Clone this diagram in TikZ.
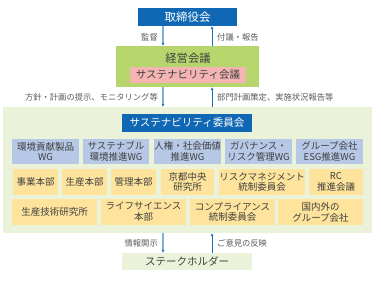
\documentclass[tikz,border=0pt]{standalone}
\usepackage{fontspec}
\setmainfont{Noto Sans CJK JP}
\usepackage{tikz}
\usetikzlibrary{arrows.meta}

\definecolor{boardblue}{HTML}{1068B4}
\definecolor{arrowblue}{HTML}{1A6FB8}
\definecolor{arrowlight}{HTML}{7FB0DD}
\definecolor{mgmtgreen}{HTML}{B6D56C}
\definecolor{confpink}{HTML}{F3B4B2}
\definecolor{panelgreen}{HTML}{EBF2DA}
\definecolor{wgblue}{HTML}{B6C8E6}
\definecolor{orgyellow}{HTML}{FDE39B}
\definecolor{textgray}{HTML}{404040}
\definecolor{labelgray}{HTML}{595959}

\begin{document}
\begin{tikzpicture}[x=1pt,y=-1pt,
    box/.style={inner sep=0pt, align=center, text=textgray,
      font=\fontsize{9.5}{10.8}\selectfont},
    wg/.style={box, fill=wgblue, minimum height=25pt},
    org/.style={box, fill=orgyellow, minimum height=26pt},
    head/.style={inner sep=0pt, fill=boardblue, text=white,
      font=\fontsize{10.5}{12}\selectfont},
    lbl/.style={inner sep=0pt, text=labelgray, font=\fontsize{8.3}{10}\selectfont},
    dnarrow/.style={draw=arrowlight, line width=1.4pt,
      -{Latex[length=3pt,width=3.2pt,color=arrowblue]}},
    uparrow/.style={draw=arrowblue, line width=0.8pt,
      -{Latex[length=3pt,width=3.2pt]}}]
  \useasboundingbox (0,0) rectangle (390,283);

  \coordinate (dn) at (163,0);
  \coordinate (up) at (212,0);

  % top
  \node[head, minimum width=99pt, minimum height=18pt,
    font=\fontsize{11.5}{13}\selectfont] (board) at (187.5,17) {取締役会};
  \node[fill=mgmtgreen, minimum width=143pt, minimum height=41pt] (mgmt) at (187.5,66.5) {};
  \node[box, font=\fontsize{11.3}{13}\selectfont] (mgmtlbl) at (188,58) {経営会議};
  \node[box, fill=confpink, minimum width=116pt, minimum height=16pt,
    font=\fontsize{10.5}{12}\selectfont] (conf) at (188,75) {サステナビリティ会議};

  % committee panel
  \node[fill=panelgreen, minimum width=369pt, minimum height=126pt] (panel) at (187.5,170) {};
  \node[head, minimum width=130pt, minimum height=18pt] (comm) at (187,123) {サステナビリティ委員会};

  \node[wg, minimum width=67pt] (wg1) at (45.5,151.5) {環境貢献製品\\WG};
  \node[wg, minimum width=66pt] (wg2) at (116,151.5) {サステナブル\\環境推進WG};
  \node[wg, minimum width=67pt] (wg3) at (187.5,151.5) {人権・社会価値\\推進WG};
  \node[wg, minimum width=67pt] (wg4) at (258.5,151.5) {ガバナンス・\\リスク管理WG};
  \node[wg, minimum width=67pt] (wg5) at (329.5,151.5) {グループ会社\\ESG推進WG};

  \node[org, minimum width=45pt] (biz) at (35.5,182) {事業本部};
  \node[org, minimum width=45pt] (prod) at (84.5,182) {生産本部};
  \node[org, minimum width=45pt] (admin) at (133.5,182) {管理本部};
  \node[org, minimum width=53pt] (lab) at (187.5,182) {京都中央\\研究所};
  \node[org, minimum width=86pt] (risk) at (262,182) {リスクマネジメント\\統制委員会};
  \node[org, minimum width=54pt] (rc) at (336,182) {RC\\推進会議};

  \node[org, minimum width=85pt] (tech) at (54.5,212) {生産技術研究所};
  \node[org, minimum width=85pt] (life) at (143.5,212) {ライフサイエンス\\本部};
  \node[org, minimum width=85pt] (comp) at (232.5,212) {コンプライアンス\\統制委員会};
  \node[org, minimum width=85pt] (group) at (320.5,212) {国内外の\\グループ会社};

  % bottom
  \node[box, fill=panelgreen, minimum width=130pt, minimum height=17pt,
    font=\fontsize{10.5}{12}\selectfont] (stake) at (187,261.5) {ステークホルダー};

  % connectors
  \draw[dnarrow] (board.south -| dn) -- (mgmt.north -| dn);
  \draw[uparrow] (mgmt.north -| up) -- (board.south -| up);
  \draw[dnarrow] (mgmt.south -| dn) -- (panel.north -| dn);
  \draw[uparrow] (panel.north -| up) -- (mgmt.south -| up);
  \draw[dnarrow] (panel.south -| dn) -- (stake.north -| dn);
  \draw[uparrow] (stake.north -| up) -- (panel.south -| up);

  \node[lbl, anchor=east] (l1) at (158,37) {監督};
  \node[lbl, anchor=west] (l2) at (217,37) {付議・報告};
  \node[lbl, anchor=east] (l3) at (158,97) {方針・計画の提示、モニタリング等};
  \node[lbl, anchor=west] (l4) at (217,97) {部門計画策定、実施状況報告等};
  \node[lbl, anchor=east] (l5) at (158,243) {情報開示};
  \node[lbl, anchor=west] (l6) at (217,243) {ご意見の反映};
\end{tikzpicture}
\end{document}
